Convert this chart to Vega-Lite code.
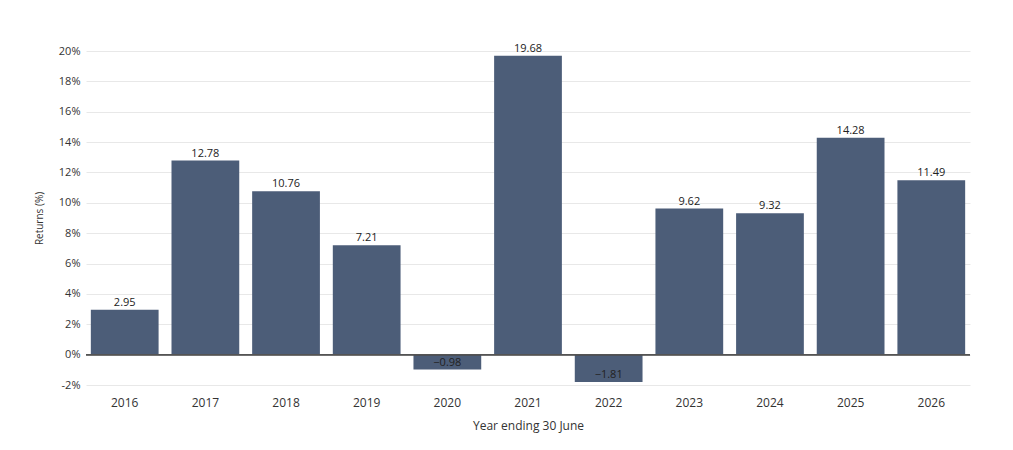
{
  "$schema": "https://vega.github.io/schema/vega-lite/v6.json",
  "width": 884,
  "height": 334,
  "autosize": {"type": "none"},
  "padding": {"left": 86, "top": 51, "right": 43, "bottom": 65},
  "config": {
    "font": "Open Sans",
    "view": {"stroke": null},
    "axis": {"labelFont": "Open Sans", "titleFont": "Open Sans", "labelColor": "#333", "titleColor": "#333", "titleFontWeight": "normal"}
  },
  "data": {
    "values": [
      {"year": "2016", "ret": 2.95},
      {"year": "2017", "ret": 12.78},
      {"year": "2018", "ret": 10.76},
      {"year": "2019", "ret": 7.21},
      {"year": "2020", "ret": -0.98},
      {"year": "2021", "ret": 19.68},
      {"year": "2022", "ret": -1.81},
      {"year": "2023", "ret": 9.62},
      {"year": "2024", "ret": 9.32},
      {"year": "2025", "ret": 14.28},
      {"year": "2026", "ret": 11.49}
    ]
  },
  "encoding": {
    "x": {
      "field": "year", "type": "nominal",
      "scale": {"paddingInner": 0.16, "paddingOuter": 0.06},
      "axis": {"title": "Year ending 30 June", "labelAngle": 0, "ticks": false, "domain": false, "labelFontSize": 12, "titleFontSize": 12, "labelPadding": 12, "titlePadding": 12}
    },
    "y": {
      "field": "ret", "type": "quantitative",
      "scale": {"domain": [-2, 20], "nice": false},
      "axis": {"title": "Returns (%)", "values": [-2, 0, 2, 4, 6, 8, 10, 12, 14, 16, 18, 20], "labelExpr": "datum.value + '%'", "ticks": false, "domain": false, "gridColor": "#e8e8e8", "labelFontSize": 11, "titleFontSize": 10, "labelPadding": 6, "titlePadding": 14}
    }
  },
  "layer": [
    {"mark": {"type": "bar", "color": "#4c5d78"}},
    {"mark": {"type": "rule", "color": "#555", "strokeWidth": 1}, "encoding": {"y": {"datum": 0}, "x": null}},
    {
      "mark": {"type": "text", "fontSize": 11, "color": "#222"},
      "encoding": {
        "y": {"field": "ret", "type": "quantitative"},
        "yOffset": {"condition": {"test": "datum.ret < 0", "value": 22}, "value": -7},
        "text": {"field": "ret", "type": "quantitative", "format": ".2f"}
      }
    }
  ],
  "transform": [{"calculate": "format(datum.ret, '.2f') + '%'", "as": "lbl"}]
}
